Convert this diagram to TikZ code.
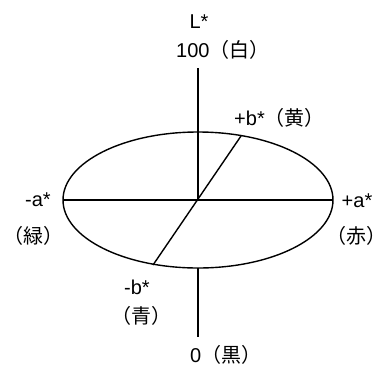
\documentclass[tikz,border=0pt]{standalone}
\usepackage{fontspec}
\setmainfont{Liberation Sans}
\newfontfamily\cjk{Noto Sans CJK JP}
\begin{document}
\begin{tikzpicture}[x=1pt,y=-1pt,
  axis/.style={line width=1.4pt,black},
  lbl/.style={inner sep=0pt,font=\fontsize{20}{22}\selectfont}]
\useasboundingbox (0,0) rectangle (387,367);
\coordinate (c) at (198,200);
\coordinate (ltop) at (198,68);
\coordinate (lbot) at (198,337);
\coordinate (ebot) at (198,268);
\coordinate (aL) at (63,200);
\coordinate (aR) at (333,200);
\coordinate (bP) at (241,136);
\coordinate (bM) at (153,265);
\draw[axis] (c) ellipse [x radius=135pt, y radius=68pt];
\draw[axis] (ltop) -- (c);
\draw[axis] (ebot) -- (lbot);
\draw[axis] (aL) -- (aR);
\draw[axis] (bP) -- (bM);
\node[lbl] (Lstar) at (199,22) {L*};
\node[lbl,anchor=west] (white) at (176,50) {100{\cjk （白）}};
\node[lbl,anchor=west] (yellow) at (234,118) {+b*{\cjk （黄）}};
\node[lbl] (am) at (38,200) {-a*};
\node[lbl] (green) at (33,236) {\cjk （緑）};
\node[lbl] (ap) at (357,201) {+a*};
\node[lbl,anchor=east] (red) at (387,236) {\cjk （赤）};
\node[lbl] (bm) at (137,287) {-b*};
\node[lbl] (blue) at (141,316) {\cjk （青）};
\node[lbl,anchor=west] (black) at (190,355) {0{\cjk （黒）}};
\end{tikzpicture}
\end{document}
